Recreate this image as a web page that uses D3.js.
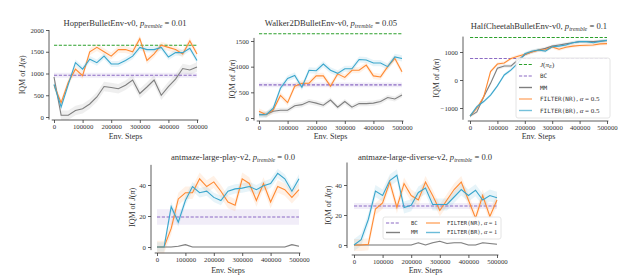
<!DOCTYPE html>
<html>
<head>
<meta charset="utf-8">
<script src="https://cdn.jsdelivr.net/npm/d3@7"></script>
<style>
  body { margin: 0; background: #fff; }
  svg { display: block; }
  text { font-family: "Liberation Serif", "DejaVu Serif", serif; fill: #333; }
  .mono { font-family: "DejaVu Sans Mono", "Liberation Mono", monospace; }
</style>
</head>
<body>
<div id="chart"></div>
<script>
// x values shared by every run
var steps = [0, 25000, 50000, 75000, 100000, 125000, 150000, 175000, 200000, 225000, 250000,
             275000, 300000, 325000, 350000, 375000, 400000, 425000, 450000, 475000, 500000];
var xTicks = [0, 100000, 200000, 300000, 400000, 500000];

// HopperBulletEnv-v0
var hopperNR = [730, 330, 800, 1100, 950, 1500, 1600, 1500, 1400, 1550, 1550, 1500, 1800, 1300, 1450, 1650, 1600, 1550, 1450, 1750, 1450];
var hopperBR = [750, 230, 750, 1250, 1100, 1330, 1250, 1400, 1220, 1220, 1300, 1400, 1600, 1550, 1550, 1600, 1380, 1480, 1480, 1580, 1300];
var hopperMM = [920, 40, 40, 150, 190, 300, 460, 700, 680, 650, 730, 850, 540, 690, 850, 500, 700, 870, 1115, 1080, 1150];
var hopperExpert = 1650, hopperBC = 960;
var hopperTicks = [0, 500, 1000, 1500, 2000];

// Walker2DBulletEnv-v0
var walkerNR = [130, 64, 160, 440, 300, 620, 675, 680, 820, 820, 620, 860, 790, 930, 930, 1030, 820, 800, 1000, 1160, 900];
var walkerBR = [64, 64, 190, 580, 770, 830, 600, 930, 920, 1050, 930, 870, 960, 960, 1140, 1130, 1070, 1070, 1000, 1190, 1160];
var walkerMM = [64, 70, 130, 150, 150, 240, 260, 320, 290, 250, 350, 210, 320, 210, 280, 280, 290, 320, 400, 370, 450];
var walkerExpert = 1640, walkerBC = 645;
var walkerTicks = [0, 500, 1000, 1500];

// HalfCheetahBulletEnv-v0
var cheetahNR = [-1290, -1010, -600, 300, 570, 610, 770, 850, 920, 1000, 1060, 1080, 1180, 1100, 1170, 1210, 1230, 1240, 1250, 1290, 1300];
var cheetahBR = [-1290, -950, -770, -540, -210, 180, 360, 600, 940, 1030, 1070, 1030, 1190, 1210, 1250, 1330, 1370, 1370, 1330, 1380, 1420];
var cheetahMM = [-1290, -1140, -600, -120, 420, 500, 500, 720, 900, 1000, 1070, 1130, 1210, 1250, 1290, 1330, 1370, 1370, 1370, 1390, 1400];
var cheetahExpert = 1520, cheetahBC = 770;
var cheetahTicks = [-1000, 0, 1000];

// antmaze-large-play-v2
var playNR = [0, 0, 12, 31, 35, 35, 44, 39, 42, 36, 29, 27, 44, 41, 30, 41, 29, 39, 37, 32, 37];
var playBR = [0, 0, 26, 16, 30, 39, 35, 36, 32, 30, 36, 37.5, 38, 39, 37, 39.5, 41, 47.5, 44, 36, 44];
var playMM = [0, 0, 0, 0.5, 1.5, 0, 0, 0, 0, 0, 0, 0, 0, 0, 0, 0, 0, 0, 0, 1.5, 0.5];
var playBC = 19.4;
var playTicks = [0, 20, 40];

// antmaze-large-diverse-v2
var diverseNR = [0, 0, 0.5, 24, 28, 42, 25, 41, 33, 30, 42, 33, 23, 30, 37, 42, 30, 18, 33, 19, 30];
var diverseBR = [0, 3.5, 17, 36, 33, 43, 46.5, 25, 26.5, 35, 38, 27, 27, 27, 32, 37, 33, 36.5, 30, 33, 31.5];
var diverseMM = [0, 0, 0, 0, 0, 0, 0, 0, 0, 1.5, 0, 1.5, 2.5, 1, 1.5, 1.5, 0, 0, 1.5, 1, 0.5];
var diverseBC = 26;
var diverseTicks = [0, 20, 40];

var colors = { expert: "#2ca02c", bc: "#8c6bc4", mm: "#7f7f7f", nr: "#ff8a33", br: "#3aa6cc" };

var panels = [
  { name: "HopperBulletEnv-v0", p: "0.01", nr: hopperNR, br: hopperBR, mm: hopperMM, expert: hopperExpert, bc: hopperBC,
    ticks: hopperTicks, spread: { nr: 80, br: 70, mm: 110, bc: 60 },
    x: [54, 197], y: [0, 117, 2000, 30], spineY: [-60, 2000], axisY: 120, spineX: 49, labelX: 22, titleX: 125, titleY: 26, xLabelY: 139 },
  { name: "Walker2DBulletEnv-v0", p: "0.05", nr: walkerNR, br: walkerBR, mm: walkerMM, expert: walkerExpert, bc: walkerBC,
    ticks: walkerTicks, spread: { nr: 60, br: 60, mm: 50, bc: 45 },
    x: [259, 402], y: [0, 118, 1500, 41], spineY: [-50, 1560], axisY: 121, spineX: 254, labelX: 232, titleX: 331, titleY: 26, xLabelY: 139 },
  { name: "HalfCheetahBulletEnv-v0", p: "0.1", nr: cheetahNR, br: cheetahBR, mm: cheetahMM, expert: cheetahExpert, bc: cheetahBC,
    ticks: cheetahTicks, spread: { nr: 60, br: 60, mm: 60, bc: 0 },
    x: [470, 607], y: [-1000, 108, 1000, 52], spineY: [-1420, 1550], axisY: 121, spineX: 463, labelX: 436, titleX: 539, titleY: 29, xLabelY: 139,
    legend: "column" },
  { name: "antmaze-large-play-v2", p: "0.0", nr: playNR, br: playBR, mm: playMM, expert: null, bc: playBC,
    ticks: playTicks, spread: { nr: 4, br: 3, mm: 0.5, bc: 5 },
    x: [157, 299], y: [0, 247, 40, 185], spineY: [-2, 53], axisY: 253, spineX: 151, labelX: 132, titleX: 233, titleY: 160, xLabelY: 273 },
  { name: "antmaze-large-diverse-v2", p: "0.0", nr: diverseNR, br: diverseBR, mm: diverseMM, expert: null, bc: diverseBC,
    ticks: diverseTicks, spread: { nr: 4, br: 4, mm: 0.5, bc: 2 },
    x: [354, 497], y: [0, 245, 40, 185], spineY: [-2, 55], axisY: 255, spineX: 347, labelX: 328, titleX: 425, titleY: 160, xLabelY: 273,
    legend: "grid" }
];

var svg = d3.select("#chart").append("svg")
    .attr("width", 640)
    .attr("height", 278);

panels.forEach(function(P) {
  var xScale = d3.scaleLinear().domain([0, 500000]).range(P.x);
  var yScale = d3.scaleLinear().domain([P.y[0], P.y[2]]).range([P.y[1], P.y[3]]);
  var g = svg.append("g");

  // bands then lines
  function band(vals, s, col) {
    if (!s) return;
    var area = d3.area()
        .x(function(d, i) { return xScale(steps[i]); })
        .y0(function(d) { return yScale(d - s); })
        .y1(function(d) { return yScale(d + s); });
    g.append("path").datum(vals).attr("d", area)
      .attr("fill", col).attr("fill-opacity", 0.12).attr("stroke", "none");
  }
  function line(vals, col) {
    var l = d3.line()
        .x(function(d, i) { return xScale(steps[i]); })
        .y(function(d) { return yScale(d); });
    g.append("path").datum(vals).attr("d", l)
      .attr("fill", "none").attr("stroke", col).attr("stroke-width", 1.1);
  }
  function hline(v, col) {
    g.append("line")
      .attr("x1", xScale(0)).attr("x2", xScale(500000))
      .attr("y1", yScale(v)).attr("y2", yScale(v))
      .attr("stroke", col).attr("stroke-width", 1.1).attr("stroke-dasharray", "3.2,1.6");
  }

  var bcVals = steps.map(function() { return P.bc; });
  band(bcVals, P.spread.bc, colors.bc);
  band(P.mm, P.spread.mm, colors.mm);
  band(P.nr, P.spread.nr, colors.nr);
  band(P.br, P.spread.br, colors.br);
  if (P.expert !== null) hline(P.expert, colors.expert);
  hline(P.bc, colors.bc);
  line(P.mm, colors.mm);
  line(P.nr, colors.nr);
  line(P.br, colors.br);

  // axes (offset spines)
  var yAxis = d3.axisLeft(yScale).tickValues(P.ticks).tickSize(3).tickPadding(2)
      .tickFormat(function(d) { return d < 0 ? "\u2212" + Math.abs(d) : d; });
  var ya = g.append("g").attr("transform", "translate(" + P.spineX + ",0)").call(yAxis);
  ya.select(".domain").attr("d", "M0," + yScale(P.spineY[0]) + "V" + yScale(P.spineY[1]));
  var xAxis = d3.axisBottom(xScale).tickValues(xTicks).tickSize(3).tickPadding(1.5)
      .tickFormat(d3.format("d"));
  var xa = g.append("g").attr("transform", "translate(0," + P.axisY + ")").call(xAxis);
  xa.select(".domain").attr("d", "M" + xScale(-8000) + ",0H" + xScale(505000));
  g.selectAll(".tick text").style("font-size", "6.8px").style("font-family", "Liberation Serif, serif").attr("fill", "#333");
  g.selectAll(".domain, .tick line").attr("stroke", "#333").attr("stroke-width", 0.8);

  // labels
  var t = g.append("text").attr("x", P.titleX).attr("y", P.titleY)
      .attr("text-anchor", "middle").style("font-size", "8.6px");
  t.append("tspan").text(P.name + ", ");
  t.append("tspan").style("font-style", "italic").text("p");
  t.append("tspan").style("font-style", "italic").style("font-size", "6px").attr("dy", 1.5).text("tremble");
  t.append("tspan").attr("dy", -1.5).text(" = " + P.p);

  var yl = g.append("text")
      .attr("transform", "translate(" + P.labelX + "," + ((yScale(P.spineY[0]) + yScale(P.spineY[1])) / 2) + ") rotate(-90)")
      .attr("text-anchor", "middle").attr("dy", "0.35em").style("font-size", "8px");
  yl.append("tspan").text("IQM of ");
  yl.append("tspan").style("font-style", "italic").text("J");
  yl.append("tspan").text("(");
  yl.append("tspan").style("font-style", "italic").text("\u03c0");
  yl.append("tspan").text(")");

  g.append("text").attr("x", (P.x[0] + P.x[1]) / 2).attr("y", P.xLabelY)
    .attr("text-anchor", "middle").style("font-size", "8px").text("Env. Steps");

  // legends
  if (P.legend === "column") {
    var entries = [
      { k: "expert", dash: true, label: "J" },
      { k: "bc", dash: true, label: "BC" },
      { k: "mm", dash: false, label: "MM" },
      { k: "nr", dash: false, label: "FILTER(NR)", alpha: "0.5" },
      { k: "br", dash: false, label: "FILTER(BR)", alpha: "0.5" }
    ];
    var lg = g.append("g").attr("transform", "translate(516,58)");
    lg.append("rect").attr("width", 94).attr("height", 60).attr("rx", 2)
      .attr("fill", "#fff").attr("fill-opacity", 0.85).attr("stroke", "#ddd").attr("stroke-width", 0.8);
    entries.forEach(function(e, i) {
      var yy = 6.5 + i * 11.5;
      lg.append("line").attr("x1", 3).attr("x2", 16).attr("y1", yy).attr("y2", yy)
        .attr("stroke", colors[e.k]).attr("stroke-width", e.dash ? 1.1 : 1.4)
        .attr("stroke-opacity", e.alpha ? 0.7 : 1)
        .attr("stroke-dasharray", e.dash ? "3.2,1.6" : null);
      var tx = lg.append("text").attr("x", 24).attr("y", yy).attr("dy", "0.35em").style("font-size", "6px");
      if (e.k === "expert") {
        tx.append("tspan").style("font-style", "italic").style("font-size", "7px").text("J");
        tx.append("tspan").style("font-size", "7px").text("(");
        tx.append("tspan").style("font-style", "italic").style("font-size", "7px").text("\u03c0");
        tx.append("tspan").style("font-style", "italic").style("font-size", "5px").attr("dy", 1.2).text("E");
        tx.append("tspan").style("font-size", "7px").attr("dy", -1.2).text(")");
      } else {
        tx.append("tspan").attr("class", "mono").text(e.label);
        if (e.alpha) {
          tx.append("tspan").style("font-size", "7px").text(", ");
          tx.append("tspan").style("font-size", "7px").style("font-style", "italic").text("\u03b1");
          tx.append("tspan").style("font-size", "7px").text(" = " + e.alpha);
        }
      }
    });
  }
  if (P.legend === "grid") {
    var cells = [
      { k: "bc", dash: true, label: "BC", cx: 0, r: 0 },
      { k: "mm", dash: false, label: "MM", cx: 0, r: 1 },
      { k: "nr", dash: false, label: "FILTER(NR)", alpha: "1", cx: 40, r: 0 },
      { k: "br", dash: false, label: "FILTER(BR)", alpha: "1", cx: 40, r: 1 }
    ];
    var lg2 = g.append("g").attr("transform", "translate(383,217)");
    lg2.append("rect").attr("width", 118).attr("height", 22).attr("rx", 2)
      .attr("fill", "#fff").attr("fill-opacity", 0.85).attr("stroke", "#ddd").attr("stroke-width", 0.8);
    cells.forEach(function(e) {
      var yy = 6 + e.r * 9.5;
      lg2.append("line").attr("x1", 3 + e.cx).attr("x2", 17 + e.cx).attr("y1", yy).attr("y2", yy)
        .attr("stroke", colors[e.k]).attr("stroke-width", e.dash ? 1.1 : 1.4)
        .attr("stroke-opacity", e.alpha ? 0.75 : 1)
        .attr("stroke-dasharray", e.dash ? "3.2,1.6" : null);
      var tx = lg2.append("text").attr("x", 28 + e.cx + (e.alpha ? -4 : 0)).attr("y", yy).attr("dy", "0.35em").style("font-size", "5.6px");
      tx.append("tspan").attr("class", "mono").text(e.label);
      if (e.alpha) {
        tx.append("tspan").style("font-size", "6.4px").text(", ");
        tx.append("tspan").style("font-size", "6.4px").style("font-style", "italic").text("\u03b1");
        tx.append("tspan").style("font-size", "6.4px").text(" = " + e.alpha);
      }
    });
  }
});
</script>
</body>
</html>
